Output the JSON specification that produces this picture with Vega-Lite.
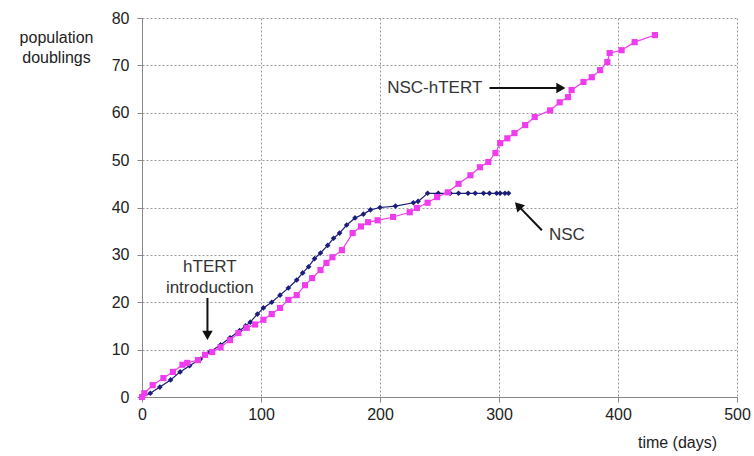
{
  "$schema": "https://vega.github.io/schema/vega-lite/v6.json",
  "width": 595,
  "height": 379,
  "autosize": {"type": "none"},
  "padding": {"left": 142, "top": 18, "right": 17, "bottom": 59},
  "background": "white",
  "config": {
    "font": "Liberation Sans",
    "view": {"stroke": null},
    "axis": {
      "labelFont": "Liberation Sans", "labelFontSize": 16, "labelColor": "#222",
      "titleFont": "Liberation Sans", "titleFontSize": 16, "titleColor": "#222", "titleFontWeight": "normal",
      "gridColor": "#999", "gridDash": [2, 2], "gridWidth": 1,
      "domainColor": "#888", "tickColor": "#888", "tickSize": 5
    }
  },
  "datasets": {
    "series": [
      {"s": "NSC", "day": 0, "pd": 0}, {"s": "NSC", "day": 7, "pd": 0.8}, {"s": "NSC", "day": 15, "pd": 2.1},
      {"s": "NSC", "day": 24, "pd": 3.6}, {"s": "NSC", "day": 32, "pd": 5.3}, {"s": "NSC", "day": 40, "pd": 6.6},
      {"s": "NSC", "day": 49, "pd": 8.0}, {"s": "NSC", "day": 57, "pd": 9.5}, {"s": "NSC", "day": 66, "pd": 11.0},
      {"s": "NSC", "day": 74, "pd": 12.5}, {"s": "NSC", "day": 82, "pd": 14.0}, {"s": "NSC", "day": 87, "pd": 15.0},
      {"s": "NSC", "day": 91, "pd": 15.8}, {"s": "NSC", "day": 97, "pd": 17.5}, {"s": "NSC", "day": 102, "pd": 18.8},
      {"s": "NSC", "day": 109, "pd": 20.0}, {"s": "NSC", "day": 116, "pd": 21.5}, {"s": "NSC", "day": 123, "pd": 23.0},
      {"s": "NSC", "day": 130, "pd": 24.7}, {"s": "NSC", "day": 135, "pd": 26.2}, {"s": "NSC", "day": 140, "pd": 27.5},
      {"s": "NSC", "day": 145, "pd": 29.2}, {"s": "NSC", "day": 150, "pd": 30.4}, {"s": "NSC", "day": 156, "pd": 32.0},
      {"s": "NSC", "day": 161, "pd": 33.5}, {"s": "NSC", "day": 166, "pd": 34.6}, {"s": "NSC", "day": 172, "pd": 36.3},
      {"s": "NSC", "day": 179, "pd": 37.8}, {"s": "NSC", "day": 186, "pd": 38.6}, {"s": "NSC", "day": 192, "pd": 39.5},
      {"s": "NSC", "day": 200, "pd": 40.0}, {"s": "NSC", "day": 213, "pd": 40.3}, {"s": "NSC", "day": 228, "pd": 41.0},
      {"s": "NSC", "day": 232, "pd": 41.3}, {"s": "NSC", "day": 240, "pd": 43.0}, {"s": "NSC", "day": 249, "pd": 43.0},
      {"s": "NSC", "day": 259, "pd": 43.0}, {"s": "NSC", "day": 266, "pd": 43.0}, {"s": "NSC", "day": 274, "pd": 43.0},
      {"s": "NSC", "day": 280, "pd": 43.0}, {"s": "NSC", "day": 287, "pd": 43.0}, {"s": "NSC", "day": 292, "pd": 43.0},
      {"s": "NSC", "day": 298, "pd": 43.0}, {"s": "NSC", "day": 301, "pd": 43.0}, {"s": "NSC", "day": 305, "pd": 43.0},
      {"s": "NSC", "day": 308, "pd": 43.0},
      {"s": "NSC-hTERT", "day": 0, "pd": 0}, {"s": "NSC-hTERT", "day": 2, "pd": 0.8}, {"s": "NSC-hTERT", "day": 9, "pd": 2.5},
      {"s": "NSC-hTERT", "day": 18, "pd": 4.0}, {"s": "NSC-hTERT", "day": 26, "pd": 5.3}, {"s": "NSC-hTERT", "day": 34, "pd": 6.8},
      {"s": "NSC-hTERT", "day": 38, "pd": 7.2}, {"s": "NSC-hTERT", "day": 47, "pd": 7.8}, {"s": "NSC-hTERT", "day": 53, "pd": 8.9},
      {"s": "NSC-hTERT", "day": 59, "pd": 9.5}, {"s": "NSC-hTERT", "day": 66, "pd": 10.5}, {"s": "NSC-hTERT", "day": 74, "pd": 12.0},
      {"s": "NSC-hTERT", "day": 81, "pd": 13.5}, {"s": "NSC-hTERT", "day": 88, "pd": 14.6}, {"s": "NSC-hTERT", "day": 95, "pd": 15.3},
      {"s": "NSC-hTERT", "day": 102, "pd": 16.3}, {"s": "NSC-hTERT", "day": 109, "pd": 17.5}, {"s": "NSC-hTERT", "day": 116, "pd": 18.8},
      {"s": "NSC-hTERT", "day": 123, "pd": 20.5}, {"s": "NSC-hTERT", "day": 130, "pd": 21.5}, {"s": "NSC-hTERT", "day": 137, "pd": 23.6},
      {"s": "NSC-hTERT", "day": 143, "pd": 25.1}, {"s": "NSC-hTERT", "day": 150, "pd": 26.8}, {"s": "NSC-hTERT", "day": 155, "pd": 28.3},
      {"s": "NSC-hTERT", "day": 160, "pd": 29.5}, {"s": "NSC-hTERT", "day": 168, "pd": 31.0}, {"s": "NSC-hTERT", "day": 177, "pd": 34.6},
      {"s": "NSC-hTERT", "day": 184, "pd": 36.0}, {"s": "NSC-hTERT", "day": 190, "pd": 36.9}, {"s": "NSC-hTERT", "day": 198, "pd": 37.3},
      {"s": "NSC-hTERT", "day": 211, "pd": 38.0}, {"s": "NSC-hTERT", "day": 225, "pd": 39.0}, {"s": "NSC-hTERT", "day": 231, "pd": 39.9},
      {"s": "NSC-hTERT", "day": 240, "pd": 41.0}, {"s": "NSC-hTERT", "day": 248, "pd": 42.2}, {"s": "NSC-hTERT", "day": 257, "pd": 43.2},
      {"s": "NSC-hTERT", "day": 266, "pd": 45.0}, {"s": "NSC-hTERT", "day": 276, "pd": 46.8}, {"s": "NSC-hTERT", "day": 284, "pd": 48.5},
      {"s": "NSC-hTERT", "day": 291, "pd": 49.6}, {"s": "NSC-hTERT", "day": 297, "pd": 51.5}, {"s": "NSC-hTERT", "day": 301, "pd": 53.6},
      {"s": "NSC-hTERT", "day": 307, "pd": 54.6}, {"s": "NSC-hTERT", "day": 313, "pd": 55.7}, {"s": "NSC-hTERT", "day": 322, "pd": 57.4},
      {"s": "NSC-hTERT", "day": 330, "pd": 59.1}, {"s": "NSC-hTERT", "day": 343, "pd": 60.5}, {"s": "NSC-hTERT", "day": 351, "pd": 62.2},
      {"s": "NSC-hTERT", "day": 358, "pd": 63.3}, {"s": "NSC-hTERT", "day": 361, "pd": 64.8}, {"s": "NSC-hTERT", "day": 371, "pd": 66.5},
      {"s": "NSC-hTERT", "day": 378, "pd": 67.5}, {"s": "NSC-hTERT", "day": 385, "pd": 69.0}, {"s": "NSC-hTERT", "day": 391, "pd": 70.7},
      {"s": "NSC-hTERT", "day": 393, "pd": 72.6}, {"s": "NSC-hTERT", "day": 403, "pd": 73.2}, {"s": "NSC-hTERT", "day": 414, "pd": 74.9},
      {"s": "NSC-hTERT", "day": 431, "pd": 76.4}
    ],
    "labels": [
      {"t": "NSC-hTERT", "day": 246, "pd": 65.2},
      {"t": "NSC", "day": 357, "pd": 34.2},
      {"t": "hTERT", "day": 57, "pd": 27.4},
      {"t": "introduction", "day": 57, "pd": 23.1}
    ],
    "arrows": [
      {"a": "right", "day": 292, "pd": 65.2, "day2": 352, "pd2": 65.2},
      {"a": "down", "day": 55, "pd": 20.9, "day2": 55, "pd2": 13.0},
      {"a": "diag", "day": 336, "pd": 35.2, "day2": 316, "pd2": 40.4}
    ]
  },
  "layer": [
    {
      "data": {"name": "series"},
      "mark": {"type": "line", "strokeWidth": 1.2},
      "encoding": {
        "x": {"field": "day", "type": "quantitative", "scale": {"domain": [0, 500]},
              "axis": {"values": [0, 100, 200, 300, 400, 500], "title": "time (days)", "titleX": 535, "titleY": 37, "titleAlign": "center", "titleBaseline": "top", "labelPadding": 4, "labelFlush": false}},
        "y": {"field": "pd", "type": "quantitative", "scale": {"domain": [0, 80]},
              "axis": {"values": [0, 10, 20, 30, 40, 50, 60, 70, 80], "title": ["population", "doublings"], "titleAngle": 0, "titleX": -86, "titleY": 11, "titleAlign": "center", "titleBaseline": "top", "titleLineHeight": 20, "labelPadding": 8}},
        "color": {"field": "s", "type": "nominal", "scale": {"domain": ["NSC", "NSC-hTERT"], "range": ["#1c1c7a", "#ee3cee"]}, "legend": null},
        "order": {"field": "day", "type": "quantitative"}
      }
    },
    {
      "data": {"name": "series"},
      "mark": {"type": "point", "filled": true, "opacity": 1},
      "encoding": {
        "x": {"field": "day", "type": "quantitative"},
        "y": {"field": "pd", "type": "quantitative"},
        "color": {"field": "s", "type": "nominal", "legend": null},
        "shape": {"field": "s", "type": "nominal", "scale": {"domain": ["NSC", "NSC-hTERT"], "range": ["diamond", "square"]}, "legend": null},
        "size": {"field": "s", "type": "nominal", "scale": {"domain": ["NSC", "NSC-hTERT"], "range": [32, 38]}, "legend": null}
      }
    },
    {
      "data": {"name": "labels"},
      "mark": {"type": "text", "font": "Liberation Sans", "fontSize": 17, "color": "#333", "align": "center", "baseline": "middle"},
      "encoding": {
        "x": {"field": "day", "type": "quantitative"},
        "y": {"field": "pd", "type": "quantitative"},
        "text": {"field": "t"}
      }
    },
    {
      "data": {"name": "arrows"},
      "mark": {"type": "rule", "color": "#111", "strokeWidth": 2},
      "encoding": {
        "x": {"field": "day", "type": "quantitative"},
        "y": {"field": "pd", "type": "quantitative"},
        "x2": {"field": "day2"},
        "y2": {"field": "pd2"}
      }
    },
    {
      "data": {"name": "arrows"},
      "transform": [{"filter": "datum.a === 'right'"}],
      "mark": {"type": "point", "shape": "triangle-right", "filled": true, "color": "#111", "opacity": 1, "size": 110},
      "encoding": {"x": {"field": "day2", "type": "quantitative"}, "y": {"field": "pd2", "type": "quantitative"}}
    },
    {
      "data": {"name": "arrows"},
      "transform": [{"filter": "datum.a === 'down'"}],
      "mark": {"type": "point", "shape": "triangle-down", "filled": true, "color": "#111", "opacity": 1, "size": 110},
      "encoding": {"x": {"field": "day2", "type": "quantitative"}, "y": {"field": "pd2", "type": "quantitative"}}
    },
    {
      "data": {"name": "arrows"},
      "transform": [{"filter": "datum.a === 'diag'"}],
      "mark": {"type": "point", "shape": "triangle-up", "angle": 317, "filled": true, "color": "#111", "opacity": 1, "size": 110},
      "encoding": {"x": {"field": "day2", "type": "quantitative"}, "y": {"field": "pd2", "type": "quantitative"}}
    }
  ]
}
